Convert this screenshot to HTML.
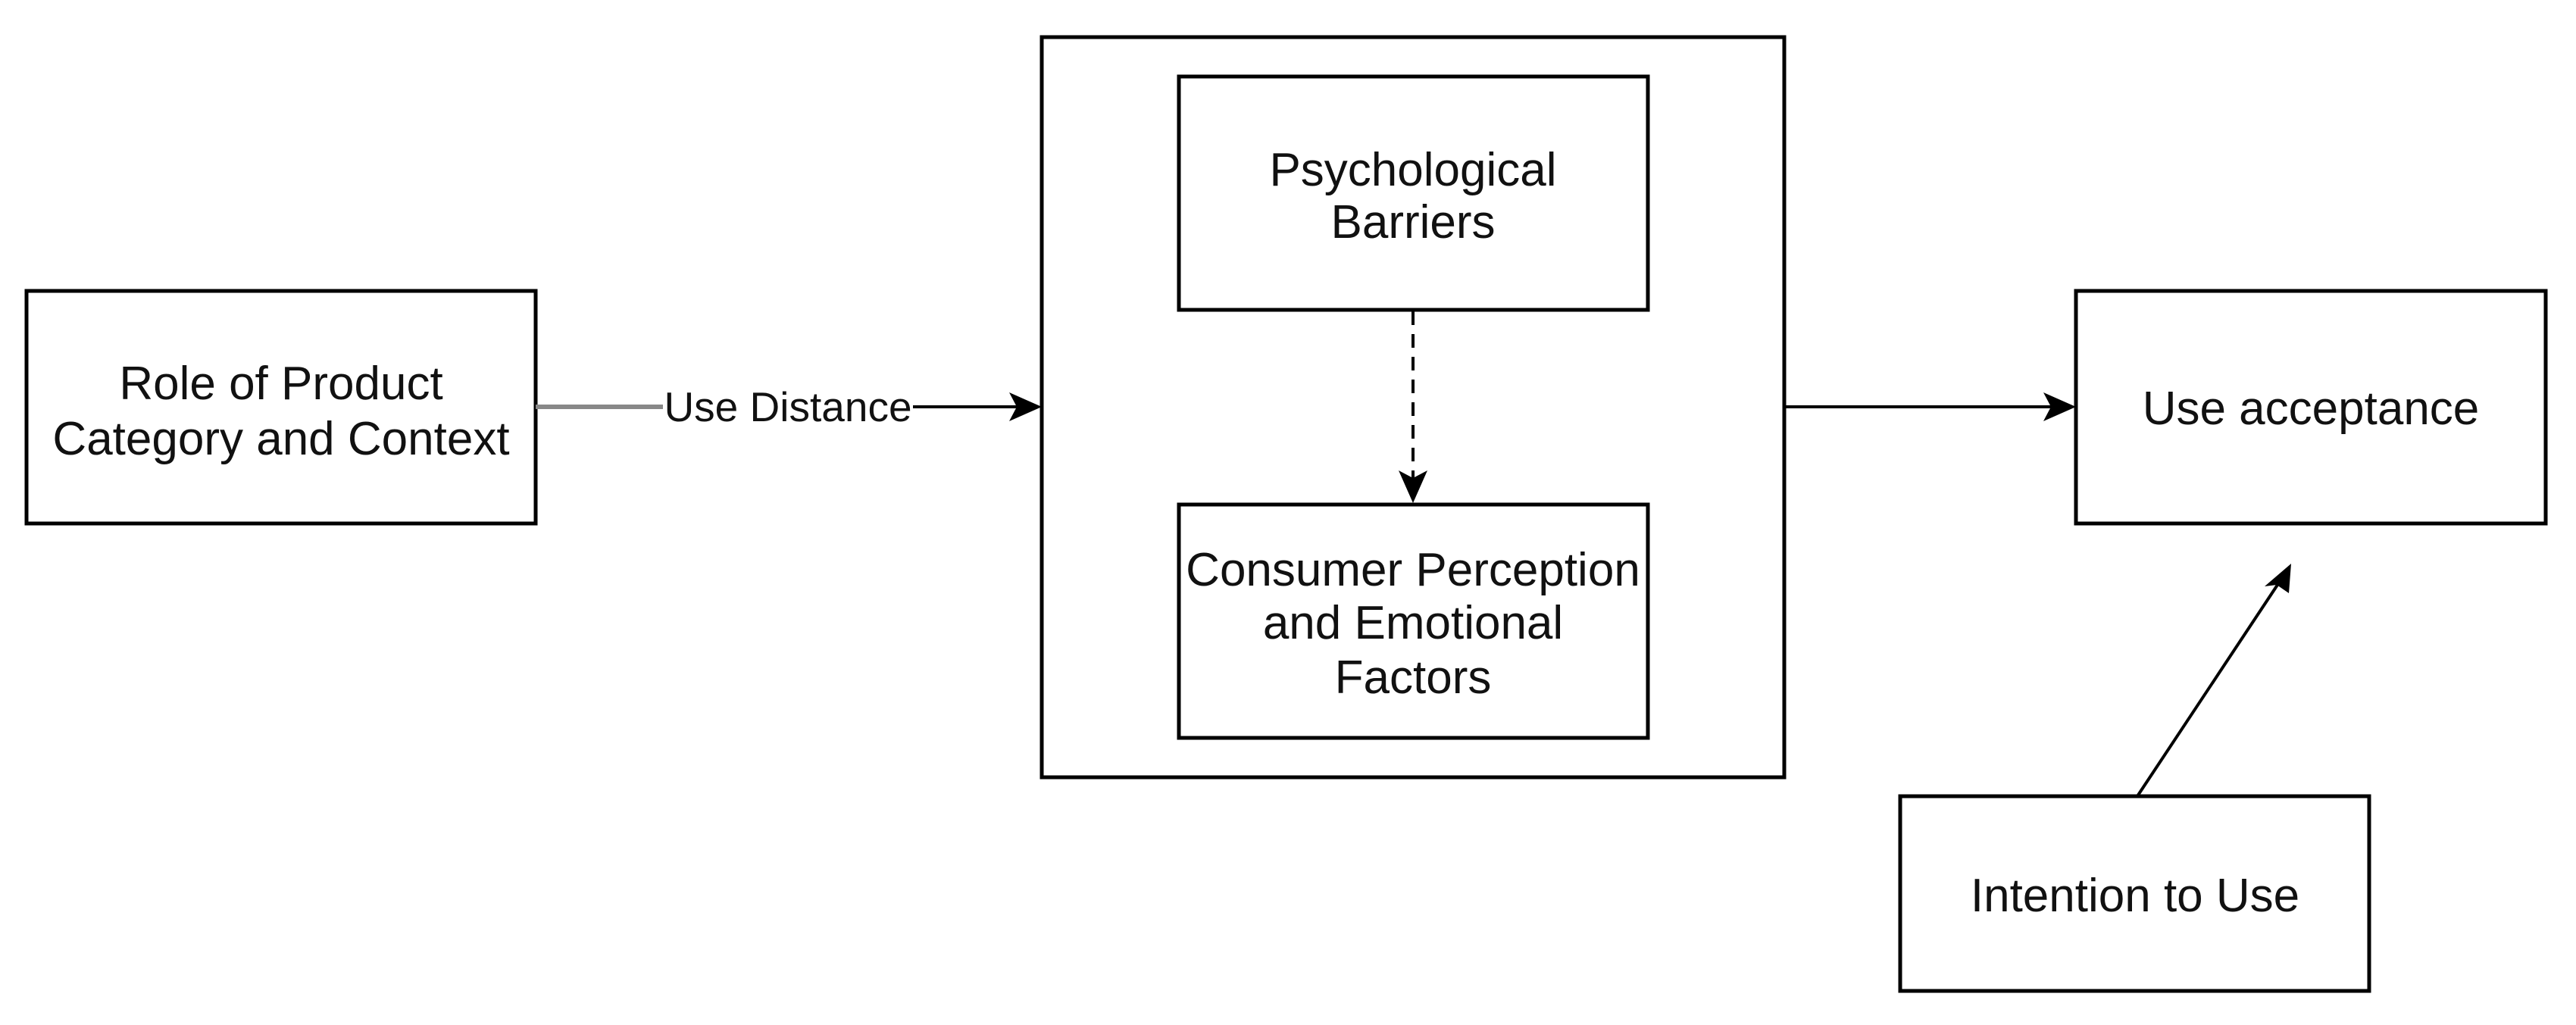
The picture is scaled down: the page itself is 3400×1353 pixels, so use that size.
<!DOCTYPE html>
<html><head><style>
html,body{margin:0;padding:0;background:#fff;}
svg{display:block;}
text{font-family:"Liberation Sans",Arial,sans-serif;fill:#111;}
</style></head><body>
<svg width="3400" height="1353" viewBox="0 0 3400 1353" xmlns="http://www.w3.org/2000/svg">
<defs>
<marker id="ah" markerWidth="10" markerHeight="10" refX="9" refY="5" orient="auto" markerUnits="userSpaceOnUse" viewBox="0 0 10 10" style="overflow:visible">
</marker>
</defs>
<g fill="none" stroke="#000" stroke-width="5">
<rect x="35" y="384" width="672" height="307"/>
<rect x="1375" y="49" width="980" height="977"/>
<rect x="1556" y="101" width="619" height="308"/>
<rect x="1556" y="666" width="619" height="308"/>
<rect x="2740" y="384" width="620" height="307"/>
<rect x="2508" y="1051" width="619" height="257"/>
</g>
<!-- Use Distance connector -->
<line x1="707" y1="537" x2="875" y2="537" stroke="#888" stroke-width="6"/>
<line x1="1205" y1="537" x2="1345" y2="537" stroke="#000" stroke-width="4"/>
<path d="M1375 537 L1332 518 L1342 537 L1332 556 Z" fill="#000"/>
<text x="1040" y="556" font-size="55" text-anchor="middle">Use Distance</text>
<!-- big box to use acceptance -->
<line x1="2355" y1="537" x2="2710" y2="537" stroke="#000" stroke-width="4"/>
<path d="M2740 537 L2697 518 L2707 537 L2697 556 Z" fill="#000"/>
<!-- dashed -->
<line x1="1865" y1="411" x2="1865" y2="635" stroke="#000" stroke-width="4" stroke-dasharray="18,12"/>
<path d="M1865 664 L1846 621 L1865 631 L1884 621 Z" fill="#000"/>
<!-- diagonal -->
<line x1="2821" y1="1051" x2="3008" y2="769" stroke="#000" stroke-width="4"/>
<path d="M3024 744 L2989 774 L3005 772 L3021 783 Z" fill="#000"/>
<g font-size="62" text-anchor="middle">
<text x="371" y="527">Role of Product</text>
<text x="371" y="600">Category and Context</text>
<text x="1865" y="245">Psychological</text>
<text x="1865" y="314">Barriers</text>
<text x="1865" y="773">Consumer Perception</text>
<text x="1865" y="843">and Emotional</text>
<text x="1865" y="915">Factors</text>
<text x="3050" y="560">Use acceptance</text>
<text x="2818" y="1203">Intention to Use</text>
</g>
</svg>
</body></html>
